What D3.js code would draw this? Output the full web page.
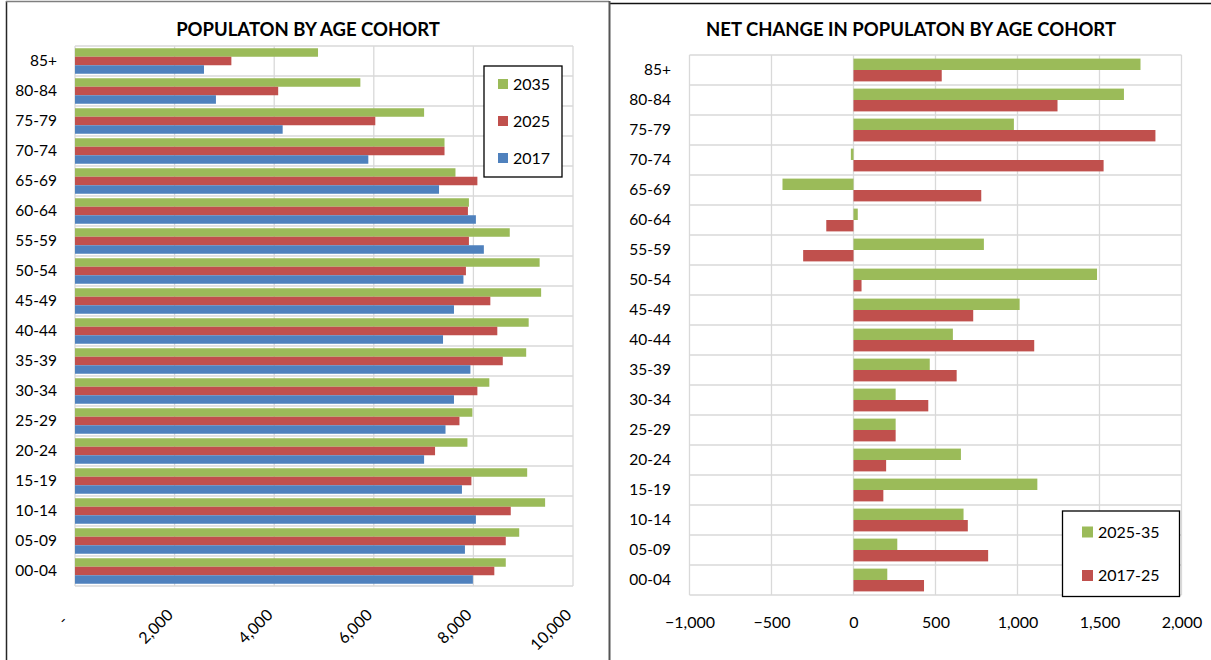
<!DOCTYPE html>
<html>
<head>
<meta charset="utf-8">
<script src="https://cdn.jsdelivr.net/npm/d3@7"></script>
<style>
  html, body { margin: 0; padding: 0; background: #fff; }
  svg { display: block; font-family: Lato, "Open Sans", sans-serif; }
</style>
</head>
<body>
<svg id="chart" width="1211" height="660"></svg>
<script>
// Age cohorts, youngest first
const ages = ["00-04", "05-09", "10-14", "15-19", "20-24", "25-29", "30-34", "35-39", "40-44",
              "45-49", "50-54", "55-59", "60-64", "65-69", "70-74", "75-79", "80-84", "85+"];

// Population by cohort
const pop2017 = [7990, 7830, 8050, 7770, 7010, 7440, 7610, 7940, 7390, 7610, 7800, 8210, 8050, 7310, 5890, 4170, 2830, 2590];
const pop2025 = [8420, 8650, 8750, 7960, 7230, 7720, 8080, 8590, 8480, 8340, 7850, 7910, 7890, 8080, 7420, 6030, 4080, 3140];
const pop2035 = [8650, 8920, 9440, 9080, 7880, 7980, 8320, 9060, 9110, 9360, 9330, 8730, 7910, 7640, 7420, 7010, 5730, 4880];

// Net change by cohort
const chg2025_35 = [206, 267, 671, 1121, 655, 257, 257, 465, 606, 1013, 1485, 795, 26, -433, -16, 978, 1649, 1750];
const chg2017_25 = [430, 821, 697, 182, 199, 257, 456, 629, 1102, 730, 49, -307, -166, 779, 1525, 1841, 1244, 538];

// Axis ticks
const popTicks = [0, 2000, 4000, 6000, 8000, 10000];
const chgTicks = [-1000, -500, 0, 500, 1000, 1500, 2000];

const popSeries = [
  { name: "2035", values: pop2035, color: "#9BBB59" },
  { name: "2025", values: pop2025, color: "#C0504D" },
  { name: "2017", values: pop2017, color: "#4F81BD" }
];
const chgSeries = [
  { name: "2025-35", values: chg2025_35, color: "#9BBB59" },
  { name: "2017-25", values: chg2017_25, color: "#C0504D" }
];

const svg = d3.select("#chart");
const GRID = "#d9d9d9";
const INK = "#000";
const fmt = d3.format(",");

// Panel frames
svg.append("line").attr("x1", 6.5).attr("x2", 6.5).attr("y1", 1).attr("y2", 660)
  .attr("stroke", "#262626").attr("stroke-width", 1.5);
svg.append("line").attr("x1", 6).attr("x2", 609).attr("y1", 1.5).attr("y2", 1.5)
  .attr("stroke", "#7f7f7f").attr("stroke-width", 1.5);
svg.append("line").attr("x1", 609.5).attr("x2", 1211).attr("y1", 3.5).attr("y2", 3.5)
  .attr("stroke", "#111").attr("stroke-width", 1.6);
svg.append("line").attr("x1", 609.5).attr("x2", 609.5).attr("y1", 1).attr("y2", 660)
  .attr("stroke", "#555").attr("stroke-width", 2);

function drawChart(opt) {
  const g = svg.append("g");
  const x = d3.scaleLinear().domain(opt.domain).range([opt.left, opt.right]);
  const y = d3.scaleBand().domain(ages.slice().reverse())
    .range([opt.top, opt.bottom]).paddingInner(opt.pad).paddingOuter(opt.pad / 2);
  const sub = d3.scaleBand().domain(opt.series.map(s => s.name)).range([0, y.bandwidth()]);

  // grid: vertical at ticks, horizontal between cohorts
  g.append("g").selectAll("line").data(opt.ticks).join("line")
    .attr("x1", d => x(d)).attr("x2", d => x(d))
    .attr("y1", opt.top).attr("y2", opt.bottom)
    .attr("stroke", GRID).attr("stroke-width", 1.3);
  g.append("g").selectAll("line").data(d3.range(ages.length + 1)).join("line")
    .attr("x1", opt.left).attr("x2", opt.right)
    .attr("y1", i => opt.top + i * y.step()).attr("y2", i => opt.top + i * y.step())
    .attr("stroke", GRID).attr("stroke-width", 1.3);

  // bars
  opt.series.forEach(s => {
    g.append("g").selectAll("rect").data(ages).join("rect")
      .attr("x", (a, i) => Math.min(x(0), x(s.values[i])))
      .attr("width", (a, i) => Math.abs(x(s.values[i]) - x(0)))
      .attr("y", a => y(a) + sub(s.name))
      .attr("height", sub.bandwidth())
      .attr("fill", s.color);
  });

  // category labels
  const ya = g.append("g").attr("transform", `translate(${opt.left},0)`)
    .call(d3.axisLeft(y).tickSize(0).tickPadding(opt.left - opt.labelRight));
  ya.select(".domain").remove();
  ya.selectAll("text").attr("font-size", 15.5).attr("fill", INK)
    .style("font-family", "Lato, sans-serif");

  // value labels
  const xa = g.append("g").attr("transform", `translate(0,${opt.axisY})`)
    .call(d3.axisBottom(x).tickValues(opt.ticks).tickSize(0).tickPadding(0).tickFormat(opt.tickFormat));
  xa.select(".domain").remove();
  xa.selectAll("text").attr("font-size", opt.tickFont).attr("fill", INK)
    .style("font-family", "Lato, sans-serif");
  if (opt.rotate) {
    xa.selectAll("text").attr("text-anchor", "end").attr("dy", 0).attr("y", 0)
      .attr("transform", "translate(-1,0) rotate(-45)");
  } else {
    xa.selectAll("text").attr("dy", 0).attr("y", 0);
  }

  // title
  g.append("text").attr("x", opt.titleX).attr("y", 36).attr("text-anchor", "middle")
    .attr("font-size", 18.5).attr("font-weight", 700).attr("fill", INK)
    .text(opt.title);

  // legend
  const L = opt.legend;
  g.append("rect").attr("x", L.x).attr("y", L.y).attr("width", L.w).attr("height", L.h)
    .attr("fill", "#fff").attr("stroke", "#000").attr("stroke-width", 1.3);
  opt.series.forEach((s, i) => {
    const cy = L.firstY + i * L.gap;
    g.append("rect").attr("x", L.sx).attr("y", cy - L.sq / 2).attr("width", L.sq).attr("height", L.sq)
      .attr("fill", s.color);
    g.append("text").attr("x", L.sx + L.sq + 5).attr("y", cy).attr("dy", "0.36em")
      .attr("font-size", 16).attr("fill", INK).text(s.name);
  });
}

drawChart({
  title: "POPULATON BY AGE COHORT", titleX: 308,
  domain: [0, 10000], ticks: popTicks,
  left: 75, right: 573, top: 46, bottom: 586, labelRight: 57,
  pad: 0.15, series: popSeries,
  axisY: 616, rotate: true, tickFont: 16,
  tickFormat: d => d === 0 ? "-\u00a0\u00a0" : fmt(d),
  legend: { x: 484, y: 66, w: 78, h: 111, sx: 498, sq: 10, firstY: 84, gap: 37 }
});

drawChart({
  title: "NET CHANGE IN POPULATON BY AGE COHORT", titleX: 911,
  domain: [-1000, 2000], ticks: chgTicks,
  left: 689.5, right: 1181.5, top: 55, bottom: 595, labelRight: 671,
  pad: 0.24, series: chgSeries,
  axisY: 628, rotate: false, tickFont: 16,
  tickFormat: d => fmt(d),
  legend: { x: 1062.5, y: 511, w: 117, h: 85.5, sx: 1082, sq: 11, firstY: 532, gap: 43.5 }
});
</script>
</body>
</html>
